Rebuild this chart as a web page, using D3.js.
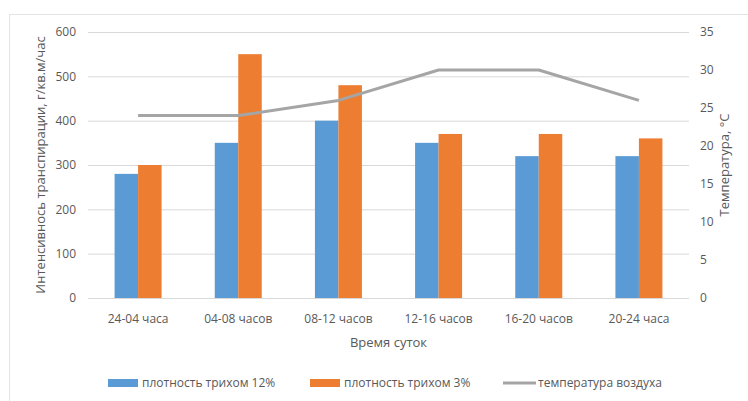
<!DOCTYPE html>
<html><head><meta charset="utf-8">
<script src="https://cdn.jsdelivr.net/npm/d3@7"></script>
<style>body{margin:0;background:#fff;}svg{display:block;font-family:"Open Sans","Noto Sans",sans-serif;}</style>
</head><body><svg id="c" width="748" height="401"></svg>
<script>
const categories = ["24-04 часа","04-08 часов","08-12 часов","12-16 часов","16-20 часов","20-24 часа"];
const trich12 = [280, 350, 400, 350, 320, 320];
const trich3 = [300, 550, 480, 370, 370, 360];
const temperature = [24, 24, 26, 30, 30, 26];
const leftTicks = [0,100,200,300,400,500,600];
const rightTicks = [0,5,10,15,20,25,30,35];
const seriesNames = ["плотность трихом 12%","плотность трихом 3%","температура воздуха"];
const colors = ["#5b9bd5","#ed7d31","#a5a5a5"];

const svg = d3.select("#c");
const m = {l:88, r:689, t:32, b:298};
svg.append("rect").attr("x",9.5).attr("y",14.5).attr("width",760).attr("height",400)
  .attr("fill","none").attr("stroke","#e3e3e3");

const x = d3.scaleBand().domain(categories).range([m.l,m.r]);
const yL = d3.scaleLinear().domain([0,600]).range([m.b,m.t]);
const yR = d3.scaleLinear().domain([0,35]).range([m.b,m.t]);

// gridlines
svg.append("g").selectAll("line").data(leftTicks).join("line")
  .attr("x1",m.l).attr("x2",m.r).attr("y1",d=>yL(d)+0.5).attr("y2",d=>yL(d)+0.5)
  .attr("stroke","#d9d9d9").attr("stroke-width",1);

// left axis labels
const axL = d3.axisLeft(yL).tickValues(leftTicks).tickSize(0).tickPadding(12);
const gL = svg.append("g").attr("transform",`translate(${m.l},0)`).call(axL);
gL.select(".domain").remove();
gL.selectAll("text").attr("font-size",12).attr("fill","#595959").attr("font-family","Open Sans, sans-serif");

const axR = d3.axisRight(yR).tickValues(rightTicks).tickSize(0).tickPadding(11);
const gR = svg.append("g").attr("transform",`translate(${m.r},0)`).call(axR);
gR.select(".domain").remove();
gR.selectAll("text").attr("font-size",12).attr("fill","#595959").attr("font-family","Open Sans, sans-serif");

const axB = d3.axisBottom(x).tickSize(0).tickPadding(16);
const gB = svg.append("g").attr("transform",`translate(0,${m.b})`).call(axB);
gB.select(".domain").remove();
gB.selectAll("text").attr("font-size",12).attr("fill","#595959").attr("font-family","Open Sans, sans-serif");

// bars
const barW = 23.5;
const inner = d3.scaleBand().domain([0,1]).range([0, barW*2]);
const series = [trich12, trich3];
series.forEach((vals, si) => {
  svg.append("g").selectAll("rect").data(vals).join("rect")
    .attr("x",(d,i)=>x(categories[i]) + x.bandwidth()/2 - barW + inner(si))
    .attr("width",barW)
    .attr("y",d=>yL(d)).attr("height",d=>m.b - yL(d))
    .attr("fill",colors[si]);
});

// line
const line = d3.line().x((d,i)=>x(categories[i])+x.bandwidth()/2).y(d=>yR(d));
svg.append("path").datum(temperature).attr("d",line).attr("fill","none")
  .attr("stroke",colors[2]).attr("stroke-width",3).attr("stroke-linejoin","round");

// titles
svg.append("text").attr("transform","translate(45,165) rotate(-90)").attr("text-anchor","middle")
  .attr("font-size",13).attr("fill","#595959").text("Интенсивнось транспирации, г/кв.м/час");
svg.append("text").attr("transform","translate(729,165) rotate(-90)").attr("text-anchor","middle")
  .attr("font-size",13).attr("fill","#595959").text("Температура, °С");
svg.append("text").attr("x",(m.l+m.r)/2).attr("y",347).attr("text-anchor","middle")
  .attr("font-size",13).attr("fill","#595959").text("Время суток");

// legend
const legX = [108, 310, 503];
seriesNames.forEach((n,i)=>{
  const g = svg.append("g").attr("transform",`translate(${legX[i]},383)`);
  if(i<2) g.append("rect").attr("x",0).attr("y",-4).attr("width",30).attr("height",8).attr("fill",colors[i]);
  else g.append("line").attr("x1",0).attr("x2",33).attr("y1",0).attr("y2",0).attr("stroke",colors[i]).attr("stroke-width",3);
  g.append("text").attr("x",i<2?34:35).attr("y",4).attr("font-size",12).attr("fill","#595959").text(n);
});
</script></body></html>
